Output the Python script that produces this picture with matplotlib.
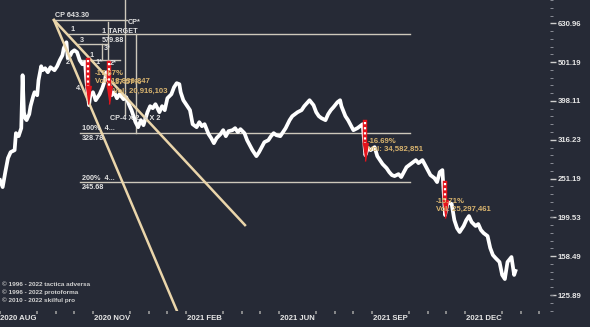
import numpy as np
import matplotlib
matplotlib.use("Agg")
import matplotlib.pyplot as plt

plt.rcParams['font.family'] = ['Liberation Sans', 'DejaVu Sans']

# price path (trading-day index, close)
bars = [0, 2, 4, 6, 8, 11, 12, 14, 16, 17, 18, 19, 20, 22, 23, 25, 26, 28, 29, 31,
        32, 34, 36, 38, 41, 43, 45, 47, 48, 50, 51, 53, 54, 56, 58, 60, 62, 64, 65, 67,
        68, 70, 72, 75, 77, 79, 80, 82, 84, 86, 88, 90, 93, 95, 97, 99, 102, 104, 106, 108,
        111, 113, 115, 117, 120, 122, 124, 126, 129, 131, 133, 135, 136, 138, 141, 143, 145, 148, 150, 152,
        154, 157, 159, 161, 163, 166, 168, 170, 172, 175, 177, 179, 181, 184, 186, 188, 190, 193, 195, 197,
        199, 202, 204, 206, 208, 211, 213, 215, 218, 220, 222, 224, 227, 229, 231, 233, 236, 238, 240, 242,
        245, 247, 249, 251, 254, 256, 257, 260, 262, 264, 266, 269, 271, 273, 275, 277, 279, 282, 284, 286,
        288, 291, 293, 295, 297, 300, 302, 304, 306, 309, 311, 313, 315, 318, 320, 322, 324, 327, 329, 331,
        333, 335, 337, 340, 342, 344, 346, 349, 351, 353, 355, 358, 360, 362, 364, 367, 369, 371, 373, 376,
        378, 380, 382, 385, 387, 388]
close = [248.9, 238.8, 261.0, 283.5, 293.8, 297.3, 328.8, 323.0, 338.7, 463.7, 372.4, 359.4, 355.2, 368.0, 385.9, 409.4, 419.2, 411.8, 450.2, 489.1,
         477.6, 483.3, 472.0, 486.2, 477.6, 489.1, 506.8, 522.0, 544.1, 563.8, 512.8, 522.0, 531.4, 537.7, 531.4, 506.8, 494.9, 500.8, 450.2, 388.2,
         411.8, 419.2, 399.8, 414.3, 429.3, 450.2, 472.0, 444.9, 411.8, 419.2, 404.6, 414.3, 402.2, 407.0, 390.5, 376.9, 351.0, 340.7, 355.2, 344.8,
         372.4, 385.9, 381.3, 390.5, 372.4, 385.9, 376.9, 404.6, 414.3, 431.8, 442.3, 439.7, 419.2, 399.8, 385.9, 376.9, 346.8, 340.7, 351.0, 342.7,
         346.8, 326.9, 319.2, 309.9, 319.2, 326.9, 334.7, 323.0, 332.7, 334.7, 338.7, 330.8, 336.7, 328.8, 315.4, 306.2, 297.3, 286.9, 293.8, 302.6,
         311.7, 315.4, 323.0, 328.8, 324.9, 323.0, 330.8, 338.7, 355.2, 363.7, 368.0, 372.4, 376.9, 385.9, 392.8, 399.8, 388.2, 372.4, 363.7, 359.4,
         355.2, 368.0, 376.9, 383.6, 395.1, 399.8, 385.9, 363.7, 355.2, 344.8, 334.7, 338.7, 342.7, 346.8, 288.6, 300.8, 297.3, 302.6, 286.9, 280.2,
         273.7, 267.2, 261.0, 256.4, 254.9, 257.9, 253.4, 261.0, 268.8, 273.7, 276.9, 280.2, 275.3, 280.2, 272.0, 264.1, 256.4, 251.9, 246.0, 261.0,
         264.1, 202.3, 218.5, 215.9, 196.4, 187.3, 182.9, 189.6, 196.4, 201.1, 194.1, 189.6, 191.8, 185.1, 181.8, 178.6, 166.4, 159.6, 156.8, 153.1,
         141.8, 138.4, 153.1, 157.7, 141.8, 145.2]

# x axis labels
xlabel_pos = [14, 84, 154, 224, 294, 364]
xlabels = ["2020 AUG", "2020 NOV", "2021 FEB", "2021 JUN", "2021 SEP", "2021 DEC"]
ytick_labels = ["125.89", "158.49", "199.53", "251.19", "316.23", "398.11", "501.19", "630.96"]

# trend lines from CP
cp_bar, cp_price = 40.6, 643.30
trend_end_bar = [133, 184.4]
trend_end_price = [115.0, 190.6]

# horizontal levels: (start bar, end bar, price)
hl_start = [40.6, 51.0, 58.7, 60.2, 60.2, 60.2]
hl_end = [95.6, 308.6, 81.3, 90.3, 308.6, 308.6]
hl_price = [643.30, 591.0, 557.3, 506.8, 328.78, 245.68]

# vertical lines: (bar, low price, high price)
vl_bar = [94.1, 102.4, 81.3, 76.8]
vl_low = [366.1, 328.8, 506.8, 506.8]
vl_high = [723.0, 591.0, 634.7, 557.3]

# drop arrows
arrow_bar = [66.2, 82.0, 274.7, 335.0]
arrow_top = [506.8, 498.0, 351.0, 245.0]
arrow_head = [434.4, 434.4, 310.0, 221.0]

# white labels: (bar, price, text)
lab_bar = [41.4, 96.3, 52.7, 76.8, 76.8, 60.2, 78.3, 67.0, 71.5, 82.8, 49.7, 57.2, 82.8, 61.7, 61.7, 61.7, 61.7]
lab_price = [661.7, 634.7, 609.0, 601.8, 570.5, 570.5, 544.1, 522.0, 500.8, 497.9, 500.8, 429.3, 359.4, 338.7, 319.2, 251.9, 238.8]
lab_text = ["CP 643.30", "CP*", "1", "1 TARGET", "579.88", "3", "3*", "1", "1*", "2*", "2", "4.",
            "CP-4 X 2  4 X 2", "100%  4...", "328.78", "200%  4...", "245.68"]

# drop stats
pct_bar = [71.5, 85.0, 277.0, 328.2]
pct_price = [469.2, 444.9, 313.5, 219.8]
pct_text = ["-17.67%", "-17.57%", "-16.69%", "-15.71%"]
vol_price = [447.5, 421.7, 299.1, 209.6]
vol_text = ["Vol: 18,836,847", "Vol: 20,916,103", "Vol: 34,582,851", "Vol: 25,297,461"]

copyright = ["\u00a9 1996 - 2022 tactica adversa", "\u00a9 1996 - 2022 protoforma", "\u00a9 2010 - 2022 skilful pro"]

bg = '#262a36'
fig = plt.figure(figsize=(5.9, 3.27), dpi=100, facecolor=bg)
ax = fig.add_axes([0, 16/327, 550/590, 311/327], facecolor=bg)
ax.set_yscale('log')
ax.set_xlim(0, 414)
ax.set_ylim(114.5, 723)

# levels
for x0, x1, p in zip(hl_start, hl_end, hl_price):
    ax.plot([x0, x1], [p, p], color='#cdc8bb', lw=1, zorder=2)
for x, lo, hi in zip(vl_bar, vl_low, vl_high):
    ax.plot([x, x], [lo, hi], color='#cdc8bb', lw=1, zorder=2)

# price
ax.plot(bars, close, color='white', lw=2.7, solid_joinstyle='round', zorder=3)

# trend lines
for xb, pb in zip(trend_end_bar, trend_end_price):
    ax.plot([cp_bar, xb], [cp_price, pb], color='#ead5aa', lw=1.8, zorder=4)

# arrows
head = [(-0.5, 0), (0.5, 0), (0, -3.3)]
for x, top, hd in zip(arrow_bar, arrow_top, arrow_head):
    ax.plot([x, x], [top, hd], color='#e3141c', lw=3.2, zorder=5)
    ax.plot([x, x], [top, hd], color='white', lw=1.6, dashes=(1.0, 1.3), zorder=6)
    ax.plot([x], [hd], marker=head, markersize=26, color='#e3141c', zorder=5)

for x, p, t in zip(lab_bar, lab_price, lab_text):
    ax.text(x, p, t, color='#e2e2e2', fontsize=5.2, fontweight='bold', va='center', ha='left', zorder=7)
for x, p, t in zip(pct_bar, pct_price, pct_text):
    ax.text(x, p, t, color='#d9b46e', fontsize=5.6, fontweight='bold', va='center', ha='left', zorder=7)
for x, p, t in zip(pct_bar, vol_price, vol_text):
    ax.text(x, p, t, color='#d9b46e', fontsize=5.6, fontweight='bold', va='center', ha='left', zorder=7)

for i, t in enumerate(copyright):
    ax.text(0.004, 0.084 - i*0.024, t, transform=ax.transAxes, color='#d0d0d0',
            fontsize=4.6, fontweight='bold', va='center', ha='left')

# axes styling
for s in ax.spines.values():
    s.set_visible(False)
ax.yaxis.tick_right()
ax.set_yticks([float(v) for v in ytick_labels])
ax.set_yticklabels(ytick_labels)
ax.set_yticks(10 ** np.arange(2.06, 2.87, 0.02), minor=True)
ax.yaxis.set_minor_formatter(matplotlib.ticker.NullFormatter())
ax.tick_params(axis='y', which='major', length=4.5, width=1, color='#cfcfcf', pad=1,
               labelsize=5.6, labelcolor='#e6e6e6')
ax.tick_params(axis='y', which='minor', length=2, width=0.7, color='#8a8d96')
for lbl in ax.get_yticklabels():
    lbl.set_fontweight('bold')

ax.set_xticks(xlabel_pos)
ax.set_xticklabels(xlabels)
ax.set_xticks(np.arange(0, 414, 14), minor=True)
ax.tick_params(axis='x', which='major', length=0, pad=3, labelsize=5.6, labelcolor='#e6e6e6')
ax.tick_params(axis='x', which='minor', length=2, width=1.2, color='#9a9a9a')
for lbl in ax.get_xticklabels():
    lbl.set_fontweight('bold')

fig.savefig('out.png', dpi=100, facecolor=bg)
